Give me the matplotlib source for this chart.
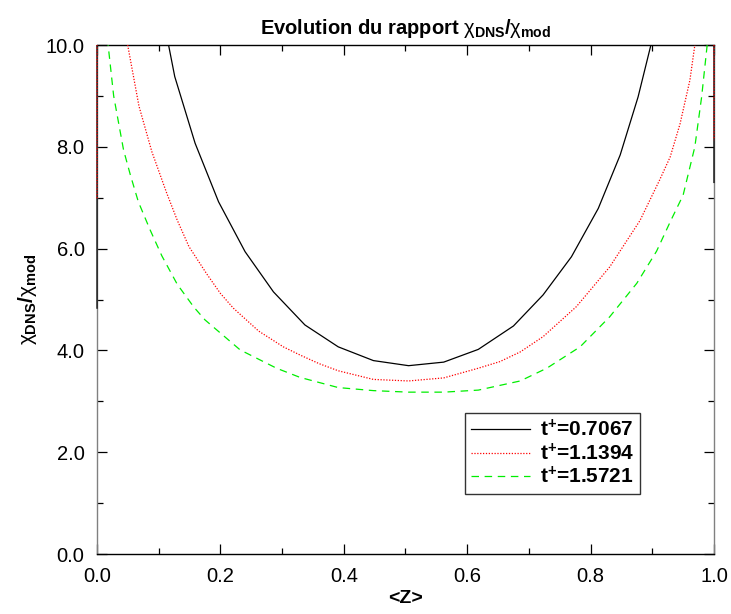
import matplotlib
matplotlib.use("Agg")
import matplotlib.pyplot as plt
from matplotlib.ticker import MultipleLocator, FormatStrFormatter
from matplotlib.transforms import Bbox, TransformedBbox

plt.rcParams['font.family'] = ['Liberation Sans', 'DejaVu Sans']
plt.rcParams['mathtext.fontset'] = 'custom'
plt.rcParams['mathtext.rm'] = 'Liberation Sans'
plt.rcParams['mathtext.it'] = 'Liberation Sans'
plt.rcParams['mathtext.bf'] = 'Liberation Sans:bold'

# ---- data ----
labels = ["0.7067", "1.1394", "1.5721"]

z_t1 = [0.0, 0.0, 0.03, 0.06, 0.095, 0.126, 0.159, 0.197, 0.240, 0.286, 0.337,
        0.391, 0.448, 0.505, 0.562, 0.618, 0.675, 0.723, 0.769, 0.8125, 0.848,
        0.877, 0.91, 0.94, 0.97, 1.0, 1.0]
r_t1 = [4.83, 100.0, 25.0, 15.0, 11.3, 9.38, 8.07, 6.92, 5.94, 5.15, 4.50,
        4.07, 3.80, 3.70, 3.77, 4.02, 4.48, 5.09, 5.84, 6.79, 7.84,
        8.98, 10.6, 13.0, 20.0, 100.0, 7.30]

z_t2 = [0.0, 0.0, 0.03, 0.0497, 0.068, 0.089, 0.113, 0.130, 0.149, 0.178, 0.200,
        0.221, 0.262, 0.302, 0.329, 0.360, 0.391, 0.448, 0.505, 0.562, 0.618,
        0.653, 0.686, 0.723, 0.777, 0.831, 0.880, 0.912, 0.929, 0.945, 0.961,
        0.969, 0.985, 1.0, 1.0]
r_t2 = [6.99, 100.0, 14.0, 10.0, 8.80, 7.90, 7.09, 6.56, 6.04, 5.50, 5.12,
        4.83, 4.38, 4.07, 3.91, 3.74, 3.60, 3.43, 3.40, 3.46, 3.65,
        3.78, 3.97, 4.27, 4.86, 5.64, 6.55, 7.35, 7.80, 8.45, 9.31,
        10.0, 13.0, 100.0, 8.13]

z_t3 = [0.008, 0.018, 0.027, 0.043, 0.054, 0.067, 0.086, 0.105, 0.130, 0.157,
        0.175, 0.232, 0.291, 0.329, 0.391, 0.448, 0.505, 0.562, 0.618, 0.686,
        0.729, 0.783, 0.831, 0.875, 0.907, 0.930, 0.950, 0.969, 0.980,
        0.989, 0.995]
r_t3 = [13.0, 10.0, 9.0, 7.94, 7.45, 6.92, 6.37, 5.86, 5.30, 4.85,
        4.60, 4.01, 3.65, 3.47, 3.27, 3.21, 3.18, 3.18, 3.22, 3.40,
        3.65, 4.07, 4.66, 5.32, 5.95, 6.55, 7.05, 8.0, 8.98,
        10.0, 12.5]

fig = plt.figure(figsize=(7.31, 6.14), dpi=100)
ax = fig.add_axes([0.1327, 0.0977, 0.844, 0.829])

lines = []
lines += ax.plot(z_t1, r_t1, color='black', lw=0.9, ls='-', zorder=3,
                 label=r'$\mathbf{t^{+}}$=' + labels[0])
lines += ax.plot(z_t2, r_t2, color='#ff0000', lw=0.9, ls=(0, (1, 1.3)), zorder=3,
                 label=r'$\mathbf{t^{+}}$=' + labels[1])
lines += ax.plot(z_t3, r_t3, color='#00ee00', lw=0.9, ls=(0, (6, 4.5)), zorder=3,
                 label=r'$\mathbf{t^{+}}$=' + labels[2])

# clip vertically at the axes, but let the edge segments at Z=0 and Z=1 show fully
clip = TransformedBbox(Bbox([[-0.004, 0.0], [1.004, 1.0]]), ax.transAxes)
for ln in lines:
    ln.set_clip_path(None)
    ln.set_clip_box(clip)

ax.set_xlim(0, 1)
ax.set_ylim(0, 10)
ax.xaxis.set_major_locator(MultipleLocator(0.2))
ax.xaxis.set_minor_locator(MultipleLocator(0.1))
ax.yaxis.set_major_locator(MultipleLocator(2.0))
ax.yaxis.set_minor_locator(MultipleLocator(1.0))
ax.xaxis.set_major_formatter(FormatStrFormatter('%.1f'))
ax.yaxis.set_major_formatter(FormatStrFormatter('%.1f'))
ax.tick_params(which='both', direction='in', top=True, right=True,
               labelsize=14.5, width=0.9)
ax.tick_params(which='major', length=7, pad=9)
ax.tick_params(which='minor', length=4)

for s in ['top', 'bottom']:
    ax.spines[s].set_color('black')
    ax.spines[s].set_linewidth(1.0)
for s in ['left', 'right']:
    ax.spines[s].set_color('#808080')
    ax.spines[s].set_linewidth(1.0)

ax.set_title(r'$\mathbf{Evolution\ du\ rapport}\ \chi_{\mathbf{DNS}}\mathbf{/}\chi_{\mathbf{mod}}$',
             fontsize=14.5, pad=8)
ax.set_xlabel('<Z>', fontsize=14, fontweight='bold', labelpad=3)
ax.set_ylabel(r'$\chi_{\mathbf{DNS}}\mathbf{/}\chi_{\mathbf{mod}}$', fontsize=15, labelpad=5)

leg = ax.legend(loc='upper left', bbox_to_anchor=(0.596, 0.277),
                prop={'size': 15, 'weight': 'bold'},
                frameon=True, fancybox=False, framealpha=1, edgecolor='#333333',
                handlelength=2.85, handletextpad=0.5, labelspacing=0.12,
                borderpad=0.28, borderaxespad=0)
leg.get_frame().set_linewidth(1.0)

fig.savefig('out.png', dpi=100)
